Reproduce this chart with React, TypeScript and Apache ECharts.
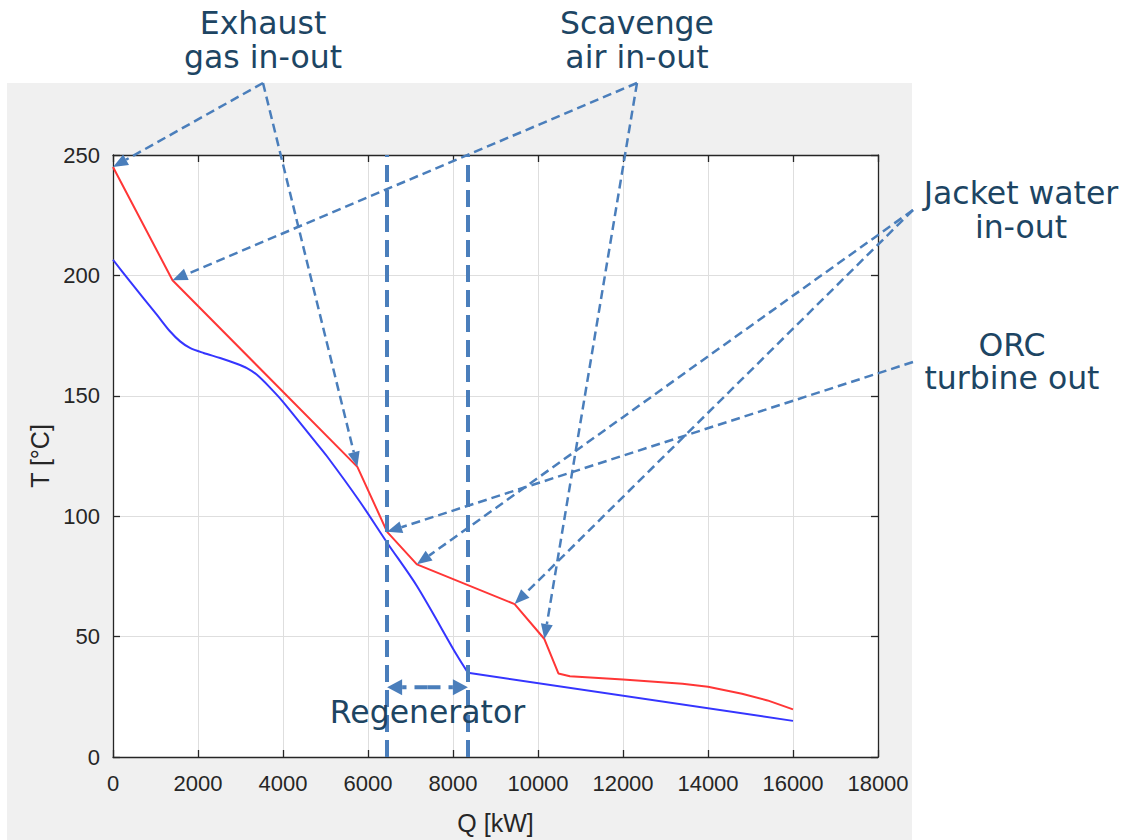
import React, { useEffect, useRef } from "react";
import * as echarts from "echarts";

// ---- data ----
const hotQ = [0, 1400, 5750, 6450, 7150, 9450, 10150, 10480, 10750, 12000, 13400, 14000, 14800, 15400, 16000];
const hotT = [245, 198, 120.5, 93.5, 80, 63.5, 49, 34.7, 33.5, 32.2, 30.4, 29.2, 26.3, 23.5, 19.8];
const coldQ = [0, 400, 1030, 1340, 1580, 1810, 2130, 2520, 2910, 3150, 3380, 3700, 4000, 4710, 5030, 5810, 6450, 7150, 8100, 8350, 16000];
const coldT = [206.5, 197.5, 183.7, 176.8, 172.6, 169.9, 167.8, 165.7, 163.3, 161.5, 158.8, 153.3, 147.5, 132, 125, 106, 89, 71, 42, 35, 15];
const coldKinkQ = 8350;
const regenQ = [6450, 8350];
const regenArrowT = 29;
const regenLabelT = 18.5;

const annotationLabels = [
  ["Exhaust", "gas in-out"],
  ["Scavenge", "air in-out"],
  ["Jacket water", "in-out"],
  ["ORC", "turbine out"],
];
const annotationTargets = [
  [[0, 245], [5750, 120.5]],
  [[1400, 198], [10150, 49]],
  [[7150, 80], [9450, 63.5]],
  [[6450, 93.5]],
];

// layout of callouts (pixels)
const calloutLayout = [
  { tx: 263, ty: [23, 57], vx: 263, vy: 83 },
  { tx: 637, ty: [23, 57], vx: 637, vy: 83 },
  { tx: 1021, ty: [193, 227], vx: 913, vy: 210 },
  { tx: 1012, ty: [345, 378], vx: 913, vy: 362 },
];

const ARROW = "#4a7ebb";
const TEXT = "#1d4563";
const AXIS = "#262626";

function arrowGraphics(sx: number, sy: number, tx: number, ty: number, len: number, hw: number, width: number, dash: number[]) {
  const dx = tx - sx, dy = ty - sy;
  const d = Math.sqrt(dx * dx + dy * dy);
  const ux = dx / d, uy = dy / d;
  const bx = tx - ux * len, by = ty - uy * len;
  const nx = -uy, ny = ux;
  return [
    {
      type: "line",
      z: 50,
      silent: true,
      shape: { x1: sx, y1: sy, x2: bx, y2: by },
      style: { stroke: ARROW, lineWidth: width, lineDash: dash, fill: null },
    },
    {
      type: "polygon",
      z: 51,
      silent: true,
      shape: { points: [[tx, ty], [bx + nx * hw, by + ny * hw], [bx - nx * hw, by - ny * hw]] },
      style: { fill: ARROW, stroke: null },
    },
  ];
}

export default function App() {
  const ref = useRef<HTMLDivElement>(null);
  useEffect(() => {
    document.body.style.margin = "0";
    const chart = echarts.init(ref.current!, null, { renderer: "svg" });
    const axisCommon = {
      axisLine: { show: true, onZero: false, lineStyle: { color: AXIS, width: 1.3 } },
      axisTick: { show: true, inside: true, length: 7, lineStyle: { color: AXIS, width: 1.3 } },
    };
    const labelStyle = { color: AXIS, fontSize: 22, fontFamily: "Liberation Sans", formatter: (v: number) => String(v) };
    const nameStyle = { color: AXIS, fontSize: 25, fontFamily: "Liberation Sans" };
    const kink = coldQ.indexOf(coldKinkQ);
    const coldPts = coldQ.map((q, i) => [q, coldT[i]]);
    chart.setOption({
      animation: false,
      backgroundColor: "transparent",
      grid: { left: 113, right: 250, top: 155, bottom: 82, show: true, backgroundColor: "#ffffff", borderWidth: 0 },
      xAxis: [
        {
          type: "value", min: 0, max: 18000, interval: 2000, position: "bottom",
          ...axisCommon,
          axisLabel: { ...labelStyle, margin: 15 },
          splitLine: { show: true, lineStyle: { color: "#dedede", width: 1 } },
          name: "Q [kW]", nameLocation: "middle", nameGap: 53,
          nameTextStyle: nameStyle,
        },
        {
          type: "value", min: 0, max: 18000, interval: 2000, position: "top",
          ...axisCommon,
          axisLabel: { show: false }, splitLine: { show: false },
        },
      ],
      yAxis: [
        {
          type: "value", min: 0, max: 250, interval: 50, position: "left",
          ...axisCommon,
          axisLabel: { ...labelStyle, margin: 13 },
          splitLine: { show: true, lineStyle: { color: "#dedede", width: 1 } },
          name: "T [°C]", nameLocation: "middle", nameGap: 59,
          nameTextStyle: nameStyle,
        },
        {
          type: "value", min: 0, max: 250, interval: 50, position: "right",
          ...axisCommon,
          axisLabel: { show: false }, splitLine: { show: false },
        },
      ],
      series: [
        {
          type: "line", name: "hot", symbol: "none", silent: true,
          data: hotQ.map((q, i) => [q, hotT[i]]),
          lineStyle: { color: "#ff3636", width: 2 },
          z: 3,
        },
        {
          type: "line", name: "cold", symbol: "none", silent: true, smooth: 0.3,
          data: coldPts.slice(0, kink + 1),
          lineStyle: { color: "#3535ff", width: 2 },
          z: 3,
          markLine: {
            symbol: "none", silent: true, label: { show: false },
            lineStyle: { color: ARROW, width: 4, type: [17, 8] },
            data: regenQ.map((q) => ({ xAxis: q })),
            z: 10,
          },
        },
        {
          type: "line", name: "cold-tail", symbol: "none", silent: true,
          data: coldPts.slice(kink),
          lineStyle: { color: "#3535ff", width: 2 },
          z: 3,
        },
      ],
    });

    const px = (p: number[]) => chart.convertToPixel({ seriesIndex: 0 }, p) as number[];
    const graphics: any[] = [];

    annotationLabels.forEach((lines, i) => {
      const L = calloutLayout[i];
      lines.forEach((t, j) => {
        graphics.push({
          type: "text", z: 60, silent: true,
          x: L.tx, y: L.ty[j],
          style: { text: t, fill: TEXT, font: "31.5px 'DejaVu Sans'", textAlign: "center", textVerticalAlign: "middle" },
        });
      });
      annotationTargets[i].forEach((tg) => {
        const p = px(tg);
        graphics.push(...arrowGraphics(L.vx, L.vy, p[0], p[1], 15, 6, 2.5, [9, 5]));
      });
    });

    // regenerator double arrow
    const a = px([regenQ[0], regenArrowT]);
    const b = px([regenQ[1], regenArrowT]);
    const midX = (a[0] + b[0]) / 2;
    graphics.push(...arrowGraphics(midX, a[1], a[0], a[1], 15, 8, 4, [13, 8]));
    graphics.push(...arrowGraphics(midX, b[1], b[0], b[1], 15, 8, 4, [13, 8]));
    const lp = px([(regenQ[0] + regenQ[1]) / 2, regenLabelT]);
    graphics.push({
      type: "text", z: 60, silent: true,
      x: lp[0], y: lp[1],
      style: { text: "Regenerator", fill: TEXT, font: "31.5px 'DejaVu Sans'", textAlign: "center", textVerticalAlign: "middle" },
    });

    chart.setOption({ graphic: graphics });
    return () => chart.dispose();
  }, []);

  return (
    <div style={{ position: "relative", width: 1128, height: 840, background: "#ffffff", overflow: "hidden" }}>
      <div style={{ position: "absolute", left: 7, top: 83, width: 905, height: 757, background: "#f0f0f0" }} />
      <div ref={ref} style={{ position: "absolute", left: 0, top: 0, width: 1128, height: 840 }} />
    </div>
  );
}
